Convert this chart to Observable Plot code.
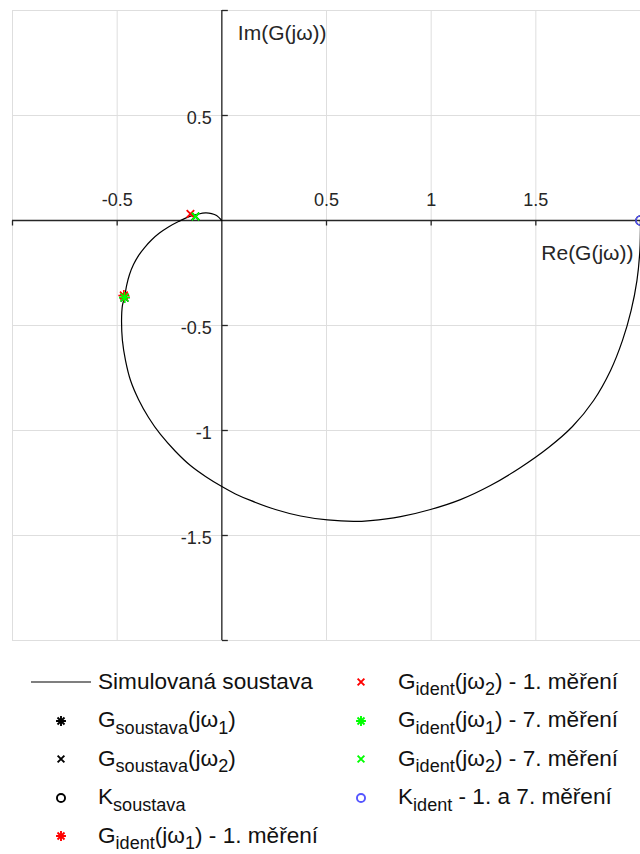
<!DOCTYPE html>
<html>
<head>
<meta charset="utf-8">
<script src="https://cdn.jsdelivr.net/npm/d3@7"></script>
<script src="https://cdn.jsdelivr.net/npm/@observablehq/plot@0.6"></script>
<style>
  html, body { margin: 0; padding: 0; background: #fff; }
  body { width: 640px; height: 854px; overflow: hidden; font-family: "Liberation Sans", Arial, Helvetica, sans-serif; }
  #chart svg { display: block; }
  #legend { position: relative; height: 204px; font-size: 22.6px; color: #111; }
  .col { position: absolute; top: 13px; }
  .item { display: flex; align-items: center; height: 38.5px; line-height: 38.5px; white-space: nowrap; }
  .item svg { flex: none; display: block; margin-right: 7px; }
  .sb { position: relative; top: 0.36em; font-size: 0.8em; }
</style>
</head>
<body>
<div id="chart"></div>
<div id="legend"></div>
<script>
// ---- Data ----
const curveRe = [2.000, 1.997, 1.983, 1.955, 1.914, 1.857, 1.776, 1.675, 1.561, 1.427, 1.283, 1.140, 0.997, 0.854, 0.710, 0.629,
  0.505, 0.376, 0.256, 0.137, 0.065, 0.000, -0.078, -0.150, -0.221, -0.293, -0.350, -0.398, -0.436, -0.460, -0.475, -0.479, -0.475, -0.465,
  -0.455, -0.441, -0.422, -0.398, -0.369, -0.336, -0.298, -0.255, -0.207, -0.159, -0.111, -0.078, -0.049, -0.025, 0.000];
const curveIm = [0.000, -0.143, -0.286, -0.429, -0.571, -0.714, -0.857, -0.981, -1.081, -1.176, -1.262, -1.329, -1.376, -1.410, -1.429, -1.433,
  -1.426, -1.407, -1.376, -1.333, -1.302, -1.267, -1.219, -1.167, -1.100, -1.019, -0.938, -0.852, -0.762, -0.667, -0.571, -0.476, -0.405, -0.367,
  -0.310, -0.257, -0.210, -0.167, -0.129, -0.093, -0.060, -0.031, -0.005, 0.017, 0.031, 0.036, 0.033, 0.024, 0.000];

const markerKeys   = ["Gsys1", "Gsys2", "Ksys", "Gid1_1", "Gid2_1", "Gid1_7", "Gid2_7", "Kid"];
const markerRe     = [-0.465, -0.126, 2, -0.468, -0.150, -0.465, -0.126, 2];
const markerIm     = [-0.367, 0.019, 0, -0.357, 0.032, -0.367, 0.019, 0];
const markerShapes = ["asterisk", "times", "circle", "asterisk", "times", "asterisk", "times", "circle"];
const markerColors = ["#000000", "#000000", "#000000", "#ff0000", "#ff0000", "#00ff00", "#00ff00", "#5555ff"];

const legendLeft  = ["Simulovaná soustava", "G<span class='sb'>soustava</span>(jω<span class='sb'>1</span>)", "G<span class='sb'>soustava</span>(jω<span class='sb'>2</span>)", "K<span class='sb'>soustava</span>", "G<span class='sb'>ident</span>(jω<span class='sb'>1</span>) - 1. měření"];
const legendRight = ["G<span class='sb'>ident</span>(jω<span class='sb'>2</span>) - 1. měření", "G<span class='sb'>ident</span>(jω<span class='sb'>1</span>) - 7. měření", "G<span class='sb'>ident</span>(jω<span class='sb'>2</span>) - 7. měření", "K<span class='sb'>ident</span> - 1. a 7. měření"];

const xDomain = [-1, 2];
const yDomain = [-2, 1];
const xGrid = [-1, -0.5, 0, 0.5, 1, 1.5, 2];
const yGrid = [-2, -1.5, -1, -0.5, 0, 0.5, 1];
const xTicks = [-1, -0.5, 0.5, 1, 1.5, 2];
const yTicks = [-2, -1.5, -1, -0.5, 0.5, 1];
const xTickValues = [-0.5, 0.5, 1, 1.5];
const xTickLabels = ["-0.5", "0.5", "1", "1.5"];
const yTickValues = [0.5, -0.5, -1, -1.5];
const yTickLabels = ["0.5", "-0.5", "-1", "-1.5"];
const xLabel = "Re(G(jω))";
const yLabel = "Im(G(jω))";

// ---- Custom symbols ----
const sym = {
  asterisk: { draw(ctx, size) { const r = Math.sqrt(size / Math.PI); const d = r * Math.SQRT1_2;
    ctx.moveTo(-r, 0); ctx.lineTo(r, 0); ctx.moveTo(0, -r); ctx.lineTo(0, r);
    ctx.moveTo(-d, -d); ctx.lineTo(d, d); ctx.moveTo(-d, d); ctx.lineTo(d, -d); } },
  times: { draw(ctx, size) { const r = Math.sqrt(size / Math.PI) * 0.75;
    ctx.moveTo(-r, -r); ctx.lineTo(r, r); ctx.moveTo(-r, r); ctx.lineTo(r, -r); } },
  circle: { draw(ctx, size) { const r = Math.sqrt(size / Math.PI);
    ctx.moveTo(r, 0); ctx.arc(0, 0, r, 0, 2 * Math.PI); } },
  tickDown: { draw(ctx, size) { const r = Math.sqrt(size / Math.PI); ctx.moveTo(0, 0); ctx.lineTo(0, r); } },
  tickRight: { draw(ctx, size) { const r = Math.sqrt(size / Math.PI); ctx.moveTo(0, 0); ctx.lineTo(r, 0); } }
};
const symR = { asterisk: 5.5, times: 5, circle: 4.5 };
const symW = { asterisk: 1.6, times: 1.8, circle: 1.5 };

const curve = curveRe.map((re, i) => ({ re, im: curveIm[i] }));
const markers = markerKeys.map((k, i) => ({ key: k, re: markerRe[i], im: markerIm[i], shape: markerShapes[i], color: markerColors[i] }));
const xTickLab = xTickValues.map((v, i) => ({ v, label: xTickLabels[i] }));
const yTickLab = yTickValues.map((v, i) => ({ v, label: yTickLabels[i] }));

const axisColor = "#262626";
const font = "'Liberation Sans', Arial, Helvetica, sans-serif";

const markerMarks = markers.map(m => Plot.dot([m], {
  x: "re", y: "im", symbol: sym[m.shape], r: symR[m.shape],
  fill: "none", stroke: m.color, strokeWidth: symW[m.shape]
}));

const chart = Plot.plot({
  width: 640, height: 650,
  marginTop: 10, marginBottom: 10, marginLeft: 12, marginRight: 0,
  x: { domain: xDomain, axis: null },
  y: { domain: yDomain, axis: null },
  style: { fontFamily: font, background: "#fff", overflow: "visible" },
  marks: [
    Plot.gridX(xGrid, { stroke: "#dedede", strokeOpacity: 1, strokeWidth: 1 }),
    Plot.gridY(yGrid, { stroke: "#dedede", strokeOpacity: 1, strokeWidth: 1 }),
    Plot.ruleY([0], { stroke: axisColor, strokeWidth: 1.3 }),
    Plot.ruleX([0], { stroke: axisColor, strokeWidth: 1.3 }),
    Plot.dot(xTicks, { x: d => d, y: () => 0, symbol: sym.tickDown, r: 5, fill: "none", stroke: axisColor, strokeWidth: 1.3 }),
    Plot.dot(yTicks, { x: () => 0, y: d => d, symbol: sym.tickRight, r: 6, fill: "none", stroke: axisColor, strokeWidth: 1.3 }),
    Plot.text(xTickLab, { x: "v", y: () => 0, text: "label", dy: -20, fontSize: 18, fill: axisColor, textAnchor: "middle" }),
    Plot.text(yTickLab, { x: () => 0, y: "v", text: "label", dx: -10, dy: 3, fontSize: 18, fill: axisColor, textAnchor: "end" }),
    Plot.text([yLabel], { x: () => 0, y: () => yDomain[1], text: d => d, dx: 16, dy: 23, fontSize: 21, fill: axisColor, textAnchor: "start" }),
    Plot.text([xLabel], { x: () => xDomain[1], y: () => 0, text: d => d, dx: -7, dy: 33, fontSize: 21, fill: axisColor, textAnchor: "end" }),
    Plot.line(curve, { x: "re", y: "im", stroke: "#000", strokeWidth: 1.2, curve: "catmull-rom" }),
    ...markerMarks
  ]
});
document.getElementById("chart").appendChild(chart);

// ---- Legend ----
function symbolSvg(shape, color, r, w) {
  const p = d3.path();
  sym[shape].draw(p, r * r * Math.PI);
  return `<svg width="60" height="38" viewBox="-30 -19 60 38"><path d="${p.toString()}" fill="none" stroke="${color}" stroke-width="${w}"/></svg>`;
}
function lineSvg() {
  return `<svg width="60" height="38"><line x1="0" x2="60" y1="19" y2="19" stroke="#000" stroke-width="1.2"/></svg>`;
}
const leg = document.getElementById("legend");
const leftCol = document.createElement("div"); leftCol.className = "col"; leftCol.style.left = "31px";
const rightCol = document.createElement("div"); rightCol.className = "col"; rightCol.style.left = "331px";
legendLeft.forEach((lab, i) => {
  const it = document.createElement("div"); it.className = "item";
  const sw = i === 0 ? lineSvg() : symbolSvg(markers[i - 1].shape, markers[i - 1].color, symR[markers[i - 1].shape] * 0.9, 1.9);
  it.innerHTML = sw + `<span>${lab}</span>`;
  leftCol.appendChild(it);
});
legendRight.forEach((lab, i) => {
  const m = markers[i + 4];
  const it = document.createElement("div"); it.className = "item";
  it.innerHTML = symbolSvg(m.shape, m.color, symR[m.shape] * 0.9, 1.9) + `<span>${lab}</span>`;
  rightCol.appendChild(it);
});
leg.appendChild(leftCol); leg.appendChild(rightCol);
</script>
</body>
</html>
